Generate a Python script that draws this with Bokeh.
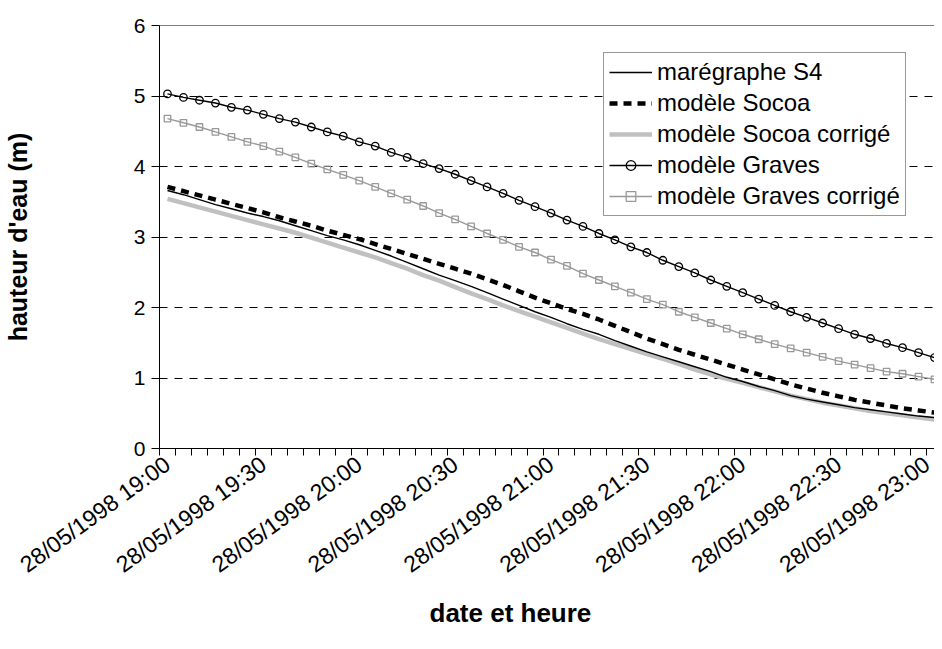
import math
from bokeh.plotting import figure
from bokeh.models import Range1d, FixedTicker, LinearAxis, Legend, LegendItem, ColumnDataSource, Title
from bokeh.embed import file_html
from bokeh.resources import INLINE

# ---- data (heights in metres, every 5 minutes from 19:00) ----
date_jour = "28/05/1998"
heures = [f"{19 + m // 60}:{m % 60:02d}" for m in range(0, 241, 5)]
label_every = 6

maregraphe = [3.66, 3.60, 3.53, 3.46, 3.40, 3.34, 3.29, 3.23, 3.16, 3.09,
              3.02, 2.96, 2.89, 2.81, 2.73, 2.64, 2.55, 2.46, 2.38, 2.30,
              2.21, 2.12, 2.03, 1.94, 1.86, 1.77, 1.69, 1.62, 1.53, 1.45,
              1.37, 1.30, 1.23, 1.16, 1.09, 1.01, 0.95, 0.88, 0.82, 0.75,
              0.70, 0.66, 0.62, 0.58, 0.55, 0.52, 0.49, 0.46, 0.44]
socoa = [3.71, 3.65, 3.59, 3.53, 3.47, 3.41, 3.35, 3.28, 3.22, 3.16,
         3.09, 3.03, 2.97, 2.90, 2.83, 2.76, 2.69, 2.62, 2.55, 2.48,
         2.40, 2.32, 2.23, 2.14, 2.06, 1.98, 1.91, 1.83, 1.74, 1.65,
         1.56, 1.48, 1.40, 1.33, 1.26, 1.19, 1.12, 1.05, 0.98, 0.91,
         0.85, 0.79, 0.74, 0.69, 0.65, 0.61, 0.57, 0.54, 0.51]
socoa_corrige = [3.54, 3.48, 3.42, 3.36, 3.30, 3.24, 3.18, 3.12, 3.06, 2.99,
                 2.92, 2.85, 2.78, 2.71, 2.63, 2.55, 2.46, 2.38, 2.29, 2.20,
                 2.12, 2.03, 1.95, 1.87, 1.79, 1.71, 1.63, 1.55, 1.48, 1.41,
                 1.34, 1.27, 1.20, 1.12, 1.05, 0.99, 0.93, 0.87, 0.81, 0.75,
                 0.70, 0.65, 0.61, 0.57, 0.53, 0.50, 0.47, 0.44, 0.41]
graves = [5.03, 4.98, 4.94, 4.90, 4.84, 4.80, 4.74, 4.68, 4.63, 4.56,
          4.49, 4.43, 4.35, 4.29, 4.20, 4.13, 4.04, 3.97, 3.89, 3.80,
          3.71, 3.62, 3.52, 3.43, 3.34, 3.24, 3.15, 3.05, 2.96, 2.86,
          2.78, 2.67, 2.58, 2.49, 2.39, 2.30, 2.21, 2.12, 2.03, 1.94,
          1.86, 1.78, 1.70, 1.62, 1.56, 1.49, 1.43, 1.36, 1.29]
graves_corrige = [4.68, 4.62, 4.56, 4.49, 4.42, 4.35, 4.29, 4.21, 4.13, 4.04,
                  3.96, 3.88, 3.80, 3.71, 3.62, 3.53, 3.44, 3.34, 3.25, 3.15,
                  3.05, 2.96, 2.86, 2.78, 2.68, 2.59, 2.48, 2.39, 2.30, 2.21,
                  2.12, 2.04, 1.94, 1.86, 1.78, 1.70, 1.62, 1.55, 1.48, 1.42,
                  1.36, 1.30, 1.24, 1.19, 1.14, 1.09, 1.06, 1.02, 0.98]
y_ticks = [0, 1, 2, 3, 4, 5, 6]

FONT = "Liberation Sans"
n = len(heures)
idx = list(range(n))
src = ColumnDataSource(dict(x=idx, mar=maregraphe, so=socoa, soc=socoa_corrige,
                            gr=graves, grc=graves_corrige))

p = figure(width=934, height=646, output_backend="svg", toolbar_location=None,
           x_range=Range1d(-0.5, n - 1), y_range=Range1d(y_ticks[0], y_ticks[-1]),
           min_border_left=154, min_border_right=0, min_border_top=25,
           min_border_bottom=198)
p.outline_line_color = None
p.background_fill_color = "white"
p.border_fill_color = "white"

# series
r_soc = p.line("x", "soc", source=src, line_color="#c0c0c0", line_width=4.5)
r_mar = p.line("x", "mar", source=src, line_color="black", line_width=1.4)
r_so = p.line("x", "so", source=src, line_color="black", line_width=4.5,
              line_dash="8 6")
r_gr = p.line("x", "gr", source=src, line_color="black", line_width=1.4)
r_grm = p.scatter("x", "gr", source=src, marker="circle", size=7.5,
                  fill_color=None, line_color="black", line_width=1.3)
r_grc = p.line("x", "grc", source=src, line_color="#999999", line_width=1.4)
r_grcm = p.scatter("x", "grc", source=src, marker="square", size=6.5,
                   fill_color=None, line_color="#999999", line_width=1.3)

# x axis: category boundaries as (minor) tick marks, labels every 30 min
xa = p.xaxis[0]
major = idx[::label_every]
xa.ticker = FixedTicker(ticks=major, minor_ticks=[i - 0.5 for i in idx])
xa.major_label_overrides = {i: f"{date_jour} {heures[i]}" for i in major}
xa.major_tick_line_color = None
xa.minor_tick_line_color = "black"
xa.minor_tick_out = 7
xa.minor_tick_in = 0
xa.axis_line_color = "black"
xa.major_label_orientation = 0.63
xa.major_label_text_font = FONT
xa.major_label_text_font_size = "23px"
xa.major_label_text_color = "black"
xa.major_label_standoff = 6

xtitle = Title(text="date et heure", align="left", offset=270, standoff=8,
               text_font=FONT, text_font_style="bold", text_font_size="26px",
               text_color="black")
p.add_layout(xtitle, "below")

ya = p.yaxis[0]
ya.ticker = FixedTicker(ticks=y_ticks)
ya.minor_tick_line_color = None
ya.major_tick_out = 8
ya.major_tick_in = 0
ya.axis_line_color = "black"
ya.major_label_text_font = FONT
ya.major_label_text_font_size = "21px"
ya.major_label_text_color = "black"
ya.major_label_standoff = 6
ya.axis_label = "hauteur d'eau (m)"
ya.axis_label_text_font = FONT
ya.axis_label_text_font_style = "bold"
ya.axis_label_text_font_size = "25px"
ya.axis_label_text_color = "black"
ya.axis_label_standoff = 99

top = LinearAxis(ticker=FixedTicker(ticks=[]), axis_line_color="#808080",
                 major_tick_line_color=None, minor_tick_line_color=None)
p.add_layout(top, "above")

p.xgrid.visible = False
p.ygrid.grid_line_color = "black"
p.ygrid.grid_line_dash = "8 7"
p.ygrid.grid_line_width = 1

legend = Legend(items=[
    LegendItem(label="marégraphe S4", renderers=[r_mar]),
    LegendItem(label="modèle Socoa", renderers=[r_so]),
    LegendItem(label="modèle Socoa corrigé", renderers=[r_soc]),
    LegendItem(label="modèle Graves", renderers=[r_gr, r_grm]),
    LegendItem(label="modèle Graves corrigé", renderers=[r_grc, r_grcm]),
], location=(444, 232))
legend.label_text_font = FONT
legend.label_text_font_size = "24px"
legend.label_text_color = "black"
legend.glyph_width = 43
legend.glyph_height = 24
legend.label_height = 24
legend.spacing = 3
legend.padding = 5
legend.margin = 0
legend.label_standoff = 5
legend.border_line_color = "#333333"
legend.border_line_width = 1
legend.background_fill_alpha = 1
p.add_layout(legend)

open("out.html", "w").write(file_html(p, INLINE))
